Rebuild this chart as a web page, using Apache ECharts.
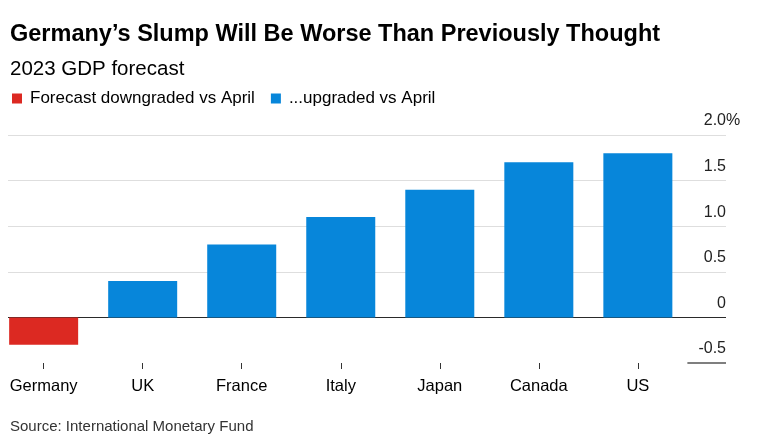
<!DOCTYPE html>
<html>
<head>
<meta charset="utf-8">
<script src="https://cdn.jsdelivr.net/npm/echarts@6/dist/echarts.min.js"></script>
<style>
  html, body { margin: 0; padding: 0; background: #fff; }
  #chart { width: 764px; height: 435px; }
</style>
</head>
<body>
<div id="chart"></div>
<script>
// 2023 GDP forecast, %
const countries = ['Germany', 'UK', 'France', 'Italy', 'Japan', 'Canada', 'US']
const forecast = [-0.3, 0.4, 0.8, 1.1, 1.4, 1.7, 1.8]
const yTicks = [-0.5, 0, 0.5, 1.0, 1.5, 2.0]

const RED = '#dc2922'
const BLUE = '#0786da'
const FONT = 'Liberation Sans, Arial, sans-serif'

// x axis is numeric (index of country) so the gridlines can run past the last bar
const xMin = -0.36
const xMax = 6.89

const down = forecast.map((v, i) => (v < 0 ? [i, v] : [i, '-']))
const up = forecast.map((v, i) => (v >= 0 ? [i, v] : [i, '-']))

const yLabelBase = {
  margin: 0,
  verticalAlign: 'bottom',
  padding: [0, 0, 6, 0],
  fontSize: 16,
  color: '#222',
  fontFamily: FONT,
}

const option = {
  animation: false,
  backgroundColor: '#fff',
  textStyle: { fontFamily: FONT },
  title: [
    {
      text: 'Germany’s Slump Will Be Worse Than Previously Thought',
      left: 10,
      top: 23,
      padding: 0,
      textStyle: { fontSize: 23.5, fontWeight: 'bold', color: '#000', fontFamily: FONT },
    },
    {
      text: '2023 GDP forecast',
      left: 10,
      top: 59,
      padding: 0,
      textStyle: { fontSize: 20.5, fontWeight: 'normal', color: '#000', fontFamily: FONT },
    },
    {
      text: 'Source: International Monetary Fund',
      left: 10,
      top: 419,
      padding: 0,
      textStyle: { fontSize: 15, fontWeight: 'normal', color: '#333', fontFamily: FONT },
    },
  ],
  legend: {
    left: 12,
    top: 90,
    padding: 0,
    icon: 'rect',
    itemWidth: 10,
    itemHeight: 10,
    itemGap: 16,
    textStyle: { fontSize: 17, color: '#000', fontFamily: FONT, padding: [0, 0, 0, 3] },
    data: ['Forecast downgraded vs April', '...upgraded vs April'],
  },
  grid: { left: 8, right: 38, top: 135, bottom: 72 },
  xAxis: {
    type: 'value',
    min: xMin,
    max: xMax,
    axisLine: { show: false, onZero: false },
    splitLine: { show: false },
    axisTick: {
      show: true,
      length: 6,
      customValues: countries.map((c, i) => i),
      lineStyle: { color: '#333', width: 1 },
    },
    axisLabel: {
      customValues: countries.map((c, i) => i),
      formatter: v => countries[v],
      fontSize: 16.5,
      color: '#000',
      margin: 15,
      fontFamily: FONT,
    },
  },
  yAxis: [
    {
      type: 'value',
      position: 'right',
      min: yTicks[0],
      max: yTicks[yTicks.length - 1],
      interval: 0.5,
      axisLine: { show: false },
      axisTick: { show: false },
      splitLine: {
        show: true,
        lineStyle: {
          color: ['rgba(0,0,0,0)', '#2a2a2a', '#dedede', '#dedede', '#dedede', '#dedede'],
          width: 1.2,
        },
      },
      axisLabel: Object.assign({}, yLabelBase, {
        inside: true,
        align: 'right',
        formatter: v => (v === 0 ? '0' : v.toFixed(1)),
      }),
    },
    {
      // only carries the "%" that hangs past the top tick label
      type: 'value',
      position: 'right',
      min: yTicks[0],
      max: yTicks[yTicks.length - 1],
      interval: 0.5,
      axisLine: { show: false },
      axisTick: { show: false },
      splitLine: { show: false },
      axisLabel: Object.assign({}, yLabelBase, {
        inside: false,
        align: 'left',
        formatter: v => (v === yTicks[yTicks.length - 1] ? '%' : ''),
      }),
    },
  ],
  series: [
    {
      name: 'Forecast downgraded vs April',
      type: 'bar',
      stack: 'gdp',
      barWidth: 69,
      itemStyle: { color: RED },
      data: down,
    },
    {
      name: '...upgraded vs April',
      type: 'bar',
      stack: 'gdp',
      barWidth: 69,
      itemStyle: { color: BLUE },
      data: up,
      markLine: {
        silent: true,
        symbol: 'none',
        label: { show: false },
        lineStyle: { color: '#555', width: 1.5, type: 'solid' },
        data: [[{ coord: [6.5, yTicks[0]] }, { coord: [xMax, yTicks[0]] }]],
      },
    },
  ],
}

const chart = echarts.init(document.getElementById('chart'))
chart.setOption(option)
</script>
</body>
</html>
